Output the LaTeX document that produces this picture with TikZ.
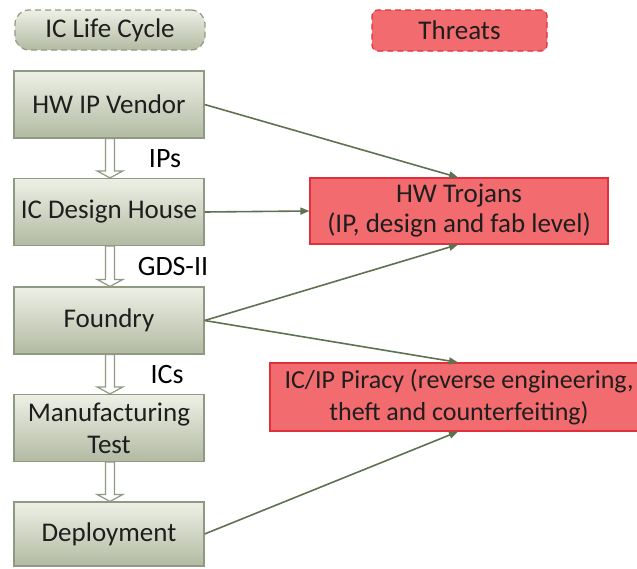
\documentclass[tikz,border=0pt]{standalone}
\usepackage{fontspec}
\setmainfont{Carlito}
\usetikzlibrary{calc,arrows.meta}
\definecolor{stageTop}{HTML}{EEF0E6}
\definecolor{stageBot}{HTML}{B2BAA2}
\definecolor{stageLine}{HTML}{8E9A82}
\definecolor{threatFill}{HTML}{F26B6E}
\definecolor{threatLine}{HTML}{E0303C}
\definecolor{linkCol}{HTML}{5E7252}
\definecolor{txt}{HTML}{1E1E1E}
\tikzset{
  stage/.style={draw=stageLine, line width=1.2pt, top color=stageTop, bottom color=stageBot,
    minimum width=190pt, minimum height=67pt, align=center, text=txt,
    font=\fontsize{27}{31}\selectfont, inner sep=0pt},
  threat/.style={draw=threatLine, line width=1.2pt, fill=threatFill, align=center, text=txt,
    font=\fontsize{27}{30}\selectfont, inner sep=0pt},
  legendA/.style={stage, dashed, dash pattern=on 6pt off 4pt, rounded corners=14pt,
    minimum height=40pt, minimum width=190pt},
  legendB/.style={threat, dashed, dash pattern=on 6pt off 4pt, rounded corners=6pt,
    minimum height=41pt, minimum width=175pt},
  flowlbl/.style={font=\fontsize{28}{32}\selectfont, text=black, inner sep=0pt},
  link/.style={draw=linkCol, line width=1.6pt, -{Triangle[length=9pt,width=7pt]}},
  hollow/.style={draw=stageLine, line width=1.2pt, fill=white}
}
% block arrow between two stacked stages
\newcommand{\blockarrow}[2]{%
  \path[hollow] let \p1=(#1.south), \p2=(#2.north) in
    (\x1+1pt-4.5pt,\y1) -- (\x1+1pt+4.5pt,\y1) -- (\x1+1pt+4.5pt,\y2+7pt)
    -- (\x1+1pt+13pt,\y2+7pt) -- (\x1+1pt,\y2) -- (\x1+1pt-13pt,\y2+7pt)
    -- (\x1+1pt-4.5pt,\y2+7pt) -- cycle;}
\begin{document}
\begin{tikzpicture}[x=1pt,y=-1pt]
\useasboundingbox (0,0) rectangle (637,568);

\node[legendA] (life) at (110,30) {IC Life Cycle};
\node[legendB] (thr) at (459.5,30.5) {Threats};

\node[stage] (vendor) at (109,104.5) {HW IP Vendor};
\node[stage] (design) at (109,212) {IC Design House};
\node[stage] (foundry) at (109,320.5) {Foundry};
\node[stage, font=\fontsize{27}{32}\selectfont] (test) at (109,428) {Manufacturing\\Test};
\node[stage, minimum height=64pt] (deploy) at (109,534) {Deployment};

\node[threat, minimum width=298pt, minimum height=66pt] (troj) at (459,211)
  {HW Trojans\\(IP, design and fab level)};
\node[threat, minimum width=378pt, minimum height=68pt, font=\fontsize{26}{32}\selectfont]
  (piracy) at (459,397)
  {IC/IP Piracy (reverse engineering,\\theft and counterfeiting)};

\blockarrow{vendor}{design}
\blockarrow{design}{foundry}
\blockarrow{foundry}{test}
\blockarrow{test}{deploy}

\node[flowlbl] (lipa) at (165,159) {IPs};
\node[flowlbl] (lgds) at (173,267) {GDS-II};
\node[flowlbl] (lics) at (167,375) {ICs};

\draw[link] (vendor.east) -- (troj.north -| 458,0);
\draw[link] (design.east) -- (troj.west);
\draw[link] (foundry.east) -- (troj.south -| 458,0);
\draw[link] (foundry.east) -- (piracy.north -| 458,0);
\draw[link] (deploy.east) -- (piracy.south -| 458,0);
\end{tikzpicture}
\end{document}
